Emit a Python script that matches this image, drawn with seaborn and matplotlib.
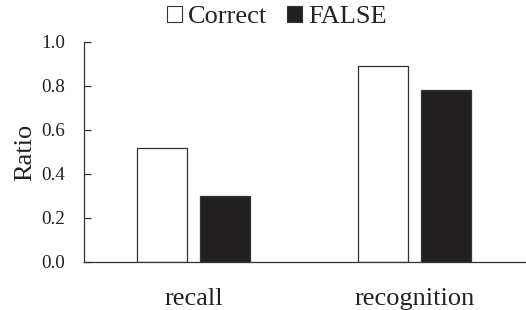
import matplotlib
matplotlib.use("Agg")
import matplotlib.pyplot as plt
import seaborn as sns
import pandas as pd
from matplotlib.patches import Patch

categories = ["recall", "recognition"]
series = ["Correct", "FALSE"]
correct_vals = [0.52, 0.89]
false_vals = [0.30, 0.78]
yticks = [0.0, 0.2, 0.4, 0.6, 0.8, 1.0]

df = pd.DataFrame({
    "task": categories * 2,
    "type": [series[0]] * 2 + [series[1]] * 2,
    "Ratio": correct_vals + false_vals,
})

sns.set_style("white")
plt.rcParams["font.family"] = ["Liberation Serif", "DejaVu Serif"]

fig = plt.figure(figsize=(5.26, 3.10), dpi=100)
ax = fig.add_axes([84 / 526, 1 - 262 / 310, 1 - 84 / 526, 220 / 310])

palette = {"Correct": "#ffffff", "FALSE": "#231f20"}
sns.barplot(data=df, x="task", y="Ratio", hue="type", order=categories,
            hue_order=series, palette=palette, width=0.575, gap=0.214,
            edgecolor="#333333", linewidth=0.9, ax=ax, legend=False,
            saturation=1)

ax.set_xlim(-0.495, 1.505)
ax.set_ylim(0, 1.0)
ax.set_yticks(yticks)
ax.set_yticklabels([f"{v:.1f}" for v in yticks], fontsize=13.8, color="#222222")
ax.tick_params(axis="y", direction="in", length=5, width=0.9, color="#333333", pad=13.5, left=True)
ax.tick_params(axis="x", length=0, pad=19, labelsize=19, labelcolor="#222222")
ax.set_xlabel("")
ax.set_ylabel("Ratio", fontsize=19, color="#222222", labelpad=4)
for s in ["top", "right"]:
    ax.spines[s].set_visible(False)
for s in ["left", "bottom"]:
    ax.spines[s].set_color("#333333")
    ax.spines[s].set_linewidth(0.9)

handles = [Patch(facecolor=palette[s], edgecolor="#333333", linewidth=0.8, label=s) for s in series]
fig.legend(handles=handles, loc="center", bbox_to_anchor=(0.527, 1 - 17 / 310), ncol=2,
           frameon=False, fontsize=19, handlelength=0.55, handleheight=0.55,
           handletextpad=0.25, columnspacing=0.75, labelcolor="#222222",
           borderpad=0)

fig.savefig("out.png", dpi=100)
